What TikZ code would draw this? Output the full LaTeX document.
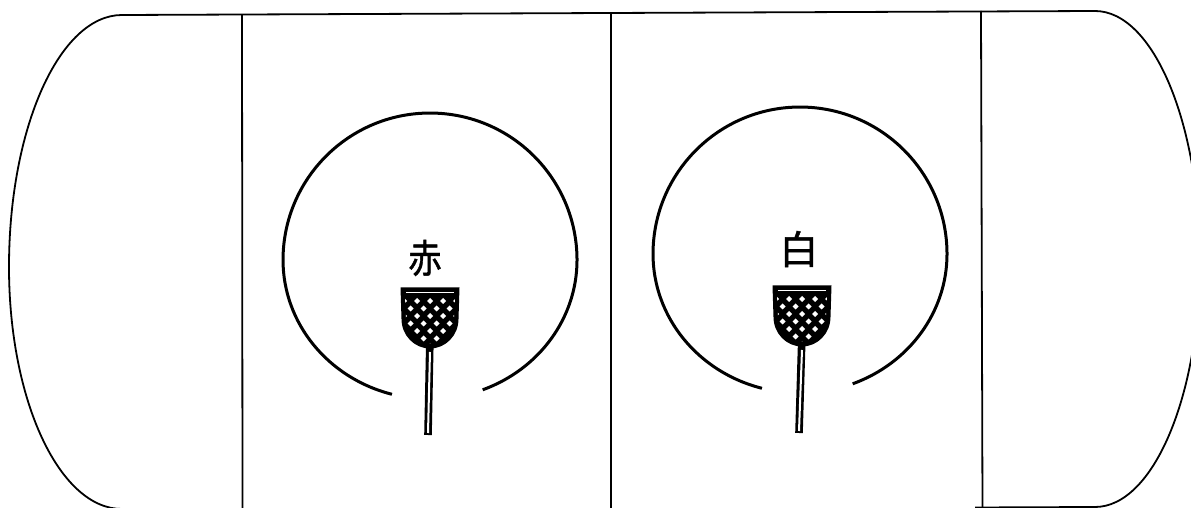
\documentclass[tikz,border=0pt]{standalone}
\usepackage{fontspec}
\newfontfamily\cjk{Noto Sans CJK JP}[FakeBold=1.2]
\begin{document}
\begin{tikzpicture}[x=0.5pt,y=0.5pt,
  outline/.style={line width=0.9pt, line join=round},
  divider/.style={line width=0.9pt},
  ring/.style={line width=1.5pt},
  poleedge/.style={line width=3.8pt},
  polecore/.style={line width=1.0pt, white},
  lbl/.style={font=\cjk\fontsize{19.5}{19.5}\selectfont, inner sep=0pt},
  basket/.pic={
    \path[fill=black] (-29.5,1.5) -- (29.5,1.5) -- (28.5,-30)
      arc[start angle=0,end angle=-180,x radius=28.5,y radius=29.5] -- cycle;
    \begin{scope}
      \clip (-25,-7) -- (25,-7) -- (24,-30)
        arc[start angle=0,end angle=-180,x radius=24,y radius=24.5] -- cycle;
      \foreach \j in {0,...,6}{
        \foreach \i in {-3,...,3}{
          \pgfmathsetmacro\xx{\i*13+mod(\j,2)*6.5}
          \fill[white] (\xx,-12-\j*7.5) +(0,3) -- +(3,0) -- +(0,-3) -- +(-3,0) -- cycle;
        }
      }
    \end{scope}
    \draw[white, line width=0.5pt] (-24,-3.5) -- (24,-3.5);
  },
]
\useasboundingbox (0,-508) rectangle (1191,0);

% outer outline
\draw[outline] (975,-507.5) -- (1095,-507)
  arc[start angle=-90,end angle=0,x radius=105,y radius=247]
  arc[start angle=0,end angle=90,x radius=105,y radius=249]
  -- (122,-15)
  arc[start angle=90,end angle=180,x radius=113,y radius=252]
  arc[start angle=180,end angle=270,x radius=113,y radius=242];

% dividers
\draw[divider] (242,-15) -- (242.5,-508);
\draw[divider] (611,-13) -- (611,-508);
\draw[divider] (981,-11) -- (982.5,-508);

% rings (open at the bottom)
\draw[ring] (482.7,-389.8)
  arc[start angle=291,end angle=360,x radius=147,y radius=139]
  arc[start angle=0,end angle=180,x radius=147,y radius=147]
  arc[start angle=180,end angle=255,x radius=147,y radius=139];
\draw[ring] (852.7,-383.8)
  arc[start angle=291,end angle=360,x radius=147,y radius=139]
  arc[start angle=0,end angle=180,x radius=147,y radius=147]
  arc[start angle=180,end angle=255,x radius=147,y radius=139];

% labels
\node[lbl] (aka) at (425,-258) {\scalebox{0.85}[1]{赤}};
\node[lbl] (shiro) at (799,-249) {白};

% poles
\draw[poleedge] (430,-335) -- (428,-435);
\draw[polecore] (430,-352) -- (428,-433);
\draw[poleedge] (802,-333) -- (799,-433);
\draw[polecore] (802,-350) -- (799,-431);

% baskets
\pic (basketL) at (430,-289) {basket};
\pic (basketR) at (802,-287) {basket};
\end{tikzpicture}
\end{document}
